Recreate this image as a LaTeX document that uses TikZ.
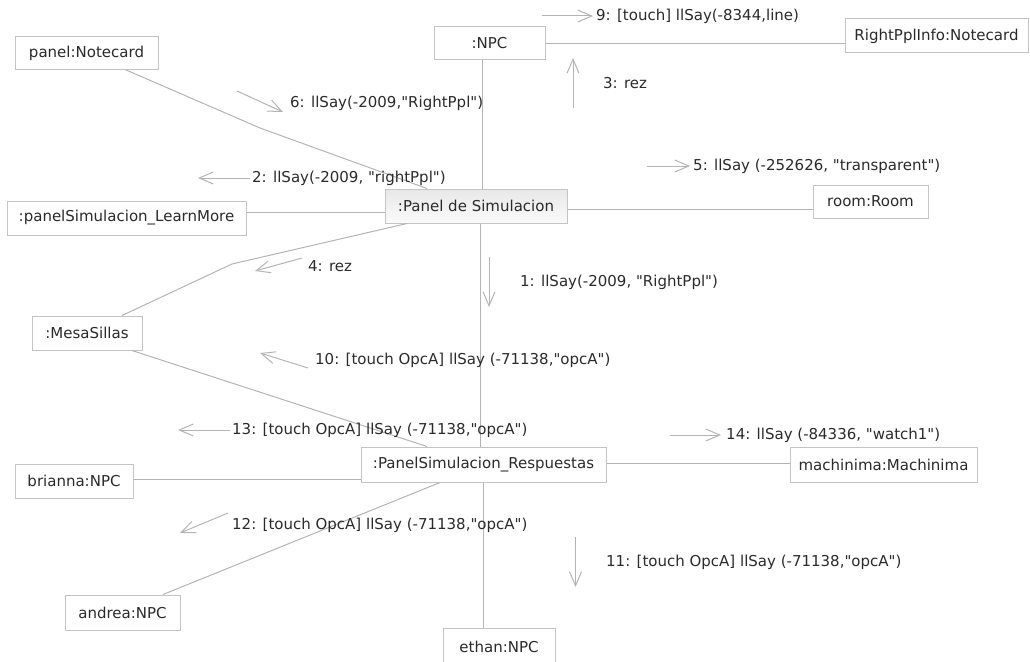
\documentclass[tikz,border=0pt]{standalone}
\usepackage{fontspec}
\newfontfamily\diafont{DejaVu Sans}
\usetikzlibrary{arrows.meta,calc}
\definecolor{boxline}{HTML}{C4C4C4}
\definecolor{conn}{HTML}{B4B4B4}
\definecolor{txt}{HTML}{2A2A2A}
\begin{document}
\begin{tikzpicture}[x=1pt,y=-1pt,
  every node/.style={font=\diafont\fontsize{15}{17}\selectfont, text=txt},
  obj/.style={draw=boxline, line width=1pt, fill=white, rectangle, inner sep=0pt},
  link/.style={draw=conn, line width=1pt},
  msg/.style={draw=conn, line width=1pt, -{Straight Barb[length=14pt,width=12pt]}},
  lbl/.style={anchor=west, inner sep=0pt}]
\useasboundingbox (0,0) rectangle (1030,661);
% objects
\node[obj, minimum width=143pt, minimum height=32pt] (pn) at (86.5,53) {panel:Notecard};
\node[obj, minimum width=111pt, minimum height=33pt] (npc) at (489.5,43.5) {:NPC};
\node[obj, minimum width=183pt, minimum height=34pt] (rpi) at (936.5,36) {RightPplInfo:Notecard};
\node[obj, minimum width=239pt, minimum height=34pt] (lm) at (126.5,218) {:panelSimulacion\_LearnMore};
\node[obj, minimum width=182pt, minimum height=34pt, top color=gray!18, bottom color=gray!4] (pds) at (476,206) {:Panel de Simulacion};
\node[obj, minimum width=115pt, minimum height=33pt] (room) at (870.5,201.5) {room:Room};
\node[obj, minimum width=110pt, minimum height=34pt] (mesa) at (87,333) {:MesaSillas};
\node[obj, minimum width=245pt, minimum height=35pt] (resp) at (483.5,464.5) {:PanelSimulacion\_Respuestas};
\node[obj, minimum width=118pt, minimum height=34pt] (bri) at (74,481) {brianna:NPC};
\node[obj, minimum width=187pt, minimum height=35pt] (mach) at (883.5,464.5) {machinima:Machinima};
\node[obj, minimum width=115pt, minimum height=35pt] (and) at (122.5,612.5) {andrea:NPC};
\node[obj, minimum width=112pt, minimum height=37pt] (eth) at (499,646.5) {ethan:NPC};
% links
\draw[link] ([xshift=-7.5pt]npc.south) -- ([xshift=6pt]pds.north);
\draw[link] (npc.east) -- (npc.east -| rpi.west);
\coordinate (k1) at (260,128);
\draw[link] ([xshift=38.5pt]pn.south) -- (k1) -- ([xshift=-49pt]pds.north);
\coordinate (c1) at ($(lm.east)+(0,-6)$);
\draw[link] (c1) -- (c1 -| pds.west);
\coordinate (c2) at ($(pds.east)+(0,3)$);
\draw[link] (c2) -- (c2 -| room.west);
\coordinate (k2) at (232,264);
\draw[link] ([xshift=-69pt]pds.south) -- (k2) -- ([xshift=35pt]mesa.north);
\draw[link] ([xshift=4pt]pds.south) -- ([xshift=-3.5pt]resp.north);
\draw[link] ([xshift=45pt]mesa.south) -- ([xshift=-56.5pt]resp.north);
\coordinate (c3) at ($(bri.east)+(0,-2)$);
\draw[link] (c3) -- (c3 -| resp.west);
\coordinate (c4) at ($(resp.east)+(0,-1.5)$);
\draw[link] (c4) -- (c4 -| mach.west);
\draw[link] ([xshift=-43.5pt]resp.south) -- ([xshift=40.5pt]and.north);
\draw[link] ([xshift=-0.5pt]resp.south) -- ([xshift=-16pt]eth.north);
% messages
\coordinate (m6a) at (237,91);  \coordinate (m6b) at (283,112);
\draw[msg] (m6a) -- (m6b);
\node[lbl] at (290,103) {6: llSay(-2009,"RightPpl")};
\coordinate (m2a) at (250,178); \coordinate (m2b) at (198,178);
\draw[msg] (m2a) -- (m2b);
\node[lbl] at (252,178) {2: llSay(-2009, "rightPpl")};
\coordinate (m9a) at (542,16); \coordinate (m9b) at (593,16);
\draw[msg] (m9a) -- (m9b);
\node[lbl] at (596,16) {9: [touch] llSay(-8344,line)};
\coordinate (m3a) at (573,108); \coordinate (m3b) at (573,58);
\draw[msg] (m3a) -- (m3b);
\node[lbl] at (603,83) {3: rez};
\coordinate (m5a) at (647,166); \coordinate (m5b) at (690,166);
\draw[msg] (m5a) -- (m5b);
\node[lbl] at (693,166) {5: llSay (-252626, "transparent")};
\coordinate (m4a) at (302,258); \coordinate (m4b) at (255,271);
\draw[msg] (m4a) -- (m4b);
\node[lbl] at (308,266) {4: rez};
\coordinate (m1a) at (489,257); \coordinate (m1b) at (489,307);
\draw[msg] (m1a) -- (m1b);
\node[lbl] at (520,282) {1: llSay(-2009, "RightPpl")};
\coordinate (m10a) at (308,368); \coordinate (m10b) at (260,353);
\draw[msg] (m10a) -- (m10b);
\node[lbl] at (315,360) {10: [touch OpcA] llSay (-71138,"opcA")};
\coordinate (m13a) at (230,430); \coordinate (m13b) at (178,430);
\draw[msg] (m13a) -- (m13b);
\node[lbl] at (232,430) {13: [touch OpcA] llSay (-71138,"opcA")};
\coordinate (m14a) at (670,435); \coordinate (m14b) at (721,435);
\draw[msg] (m14a) -- (m14b);
\node[lbl] at (726,435) {14: llSay (-84336, "watch1")};
\coordinate (m12a) at (228,513); \coordinate (m12b) at (180,533);
\draw[msg] (m12a) -- (m12b);
\node[lbl] at (232,525) {12: [touch OpcA] llSay (-71138,"opcA")};
\coordinate (m11a) at (575.5,537); \coordinate (m11b) at (575.5,587);
\draw[msg] (m11a) -- (m11b);
\node[lbl] at (606,562) {11: [touch OpcA] llSay (-71138,"opcA")};
\end{tikzpicture}
\end{document}
